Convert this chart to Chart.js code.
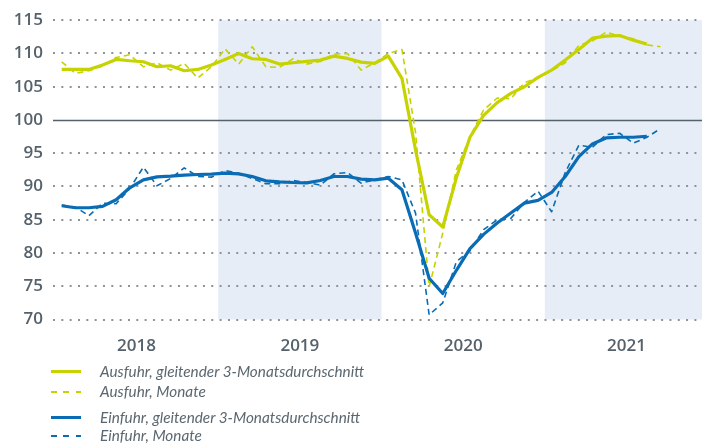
<!DOCTYPE html>
<html>
<head>
<meta charset="utf-8">
<script src="https://cdn.jsdelivr.net/npm/chart.js@4/dist/chart.umd.min.js"></script>
<style>
  html, body { margin: 0; padding: 0; background: #fff; }
  #wrap { position: relative; width: 702px; height: 445px; overflow: hidden; }
  #chart { position: absolute; left: 0; top: 0; }
  .legend { position: absolute; left: 0; top: 0; font-family: Lato, "Open Sans", sans-serif; font-style: italic; font-size: 15.3px; color: #5b6770; }
  .item { position: absolute; left: 51px; height: 20px; width: 400px; }
  .item .sw { position: absolute; left: 0; top: 9px; width: 30px; height: 3px; }
  .item .sw.dash { height: 2px; top: 10px; }
  .item span { position: absolute; left: 49px; top: 0; line-height: 20px; white-space: nowrap; }
</style>
</head>
<body>
<div id="wrap">
  <canvas id="chart" width="702" height="445"></canvas>
  <div class="legend" id="legend"></div>
</div>
<script>
// Monate Jan 2018 - Sep 2021 (Index 0 = Jan 2018)
const months = [
  '2018-01','2018-02','2018-03','2018-04','2018-05','2018-06','2018-07','2018-08','2018-09','2018-10','2018-11','2018-12',
  '2019-01','2019-02','2019-03','2019-04','2019-05','2019-06','2019-07','2019-08','2019-09','2019-10','2019-11','2019-12',
  '2020-01','2020-02','2020-03','2020-04','2020-05','2020-06','2020-07','2020-08','2020-09','2020-10','2020-11','2020-12',
  '2021-01','2021-02','2021-03','2021-04','2021-05','2021-06','2021-07','2021-08','2021-09'
];
const years = ['2018', '2019', '2020', '2021'];
const yTicks = [70, 75, 80, 85, 90, 95, 100, 105, 110, 115];

// Ausfuhr
const ausfuhrAvg = [
  107.6, 107.6, 107.6, 108.25, 109.1, 108.9, 108.75, 108.0, 108.15, 107.4, 107.6, 108.25,
  109.1, 110.0, 109.2, 109.1, 108.4, 108.6, 108.8, 109.0, 109.6, 109.25, 108.7, 108.5,
  109.6, 106.25, 95.5, 85.75, 83.9, 91.3, 97.4, 100.7, 102.6, 104.0, 105.0, 106.4,
  107.5, 109.0, 110.6, 112.3, 112.6, 112.7, 112.0, 111.4
];
const ausfuhrMonat = [
  108.75, 107.0, 107.4, 108.1, 109.4, 109.8, 108.0, 108.6, 107.5, 108.5, 106.3, 108.0,
  110.7, 108.4, 111.0, 108.0, 107.9, 109.2, 108.4, 108.8, 109.9, 110.0, 107.5, 108.6,
  110.0, 110.6, 98.1, 74.9, 83.0, 92.5, 97.5, 101.5, 103.3, 103.2, 105.6, 106.3,
  107.4, 108.6, 111.2, 111.9, 113.2, 112.6, 112.2, 111.3, 111.0
];

// Einfuhr
const einfuhrAvg = [
  87.1, 86.8, 86.8, 87.0, 88.0, 89.8, 91.0, 91.45, 91.55, 91.7, 91.8, 91.85,
  92.0, 91.9, 91.5, 90.85, 90.7, 90.6, 90.55, 90.9, 91.5, 91.5, 91.1, 91.0,
  91.25, 89.5, 83.0, 76.2, 73.9, 77.4, 80.65, 82.8, 84.5, 86.0, 87.5, 87.9,
  89.1, 91.5, 94.5, 96.4, 97.3, 97.4, 97.4, 97.55
];
const einfuhrMonat = [
  87.2, 86.9, 85.6, 87.5, 87.4, 89.7, 92.9, 90.1, 91.2, 92.8, 91.5, 91.4,
  92.4, 92.0, 91.2, 90.4, 90.4, 90.9, 90.6, 90.2, 91.9, 92.1, 90.5, 91.0,
  91.5, 91.0, 86.0, 70.7, 72.5, 78.7, 80.3, 83.5, 85.0, 85.2, 87.6, 89.3,
  86.2, 92.1, 96.2, 95.9, 97.8, 98.0, 96.5, 97.4, 98.7
];

const GELB = '#c6d300';
const BLAU = '#0a6cb4';
const TEXT = '#56626b';

function toPoints(values) {
  return values.map((v, i) => ({ x: i, y: v }));
}

// Jahresbaender 2019 und 2021 hinterlegen, 100er-Linie durchgezogen
const backgroundPlugin = {
  id: 'background',
  beforeDraw(chart) {
    const { ctx, chartArea, scales } = chart;
    ctx.save();
    ctx.fillStyle = '#e6edf7';
    [1, 3].forEach(function (yearIdx) {
      const x0 = Math.max(scales.x.getPixelForValue(yearIdx * 12 - 0.5), chartArea.left);
      const x1 = Math.min(scales.x.getPixelForValue(yearIdx * 12 + 11.5), chartArea.right);
      ctx.fillRect(x0, chartArea.top, x1 - x0, chartArea.bottom - chartArea.top);
    });
    ctx.restore();
  },
  beforeDatasetsDraw(chart) {
    const { ctx, chartArea, scales } = chart;
    const y = Math.round(scales.y.getPixelForValue(100)) + 0.5;
    ctx.save();
    ctx.strokeStyle = TEXT;
    ctx.lineWidth = 1.4;
    ctx.beginPath();
    ctx.moveTo(chartArea.left, y);
    ctx.lineTo(chartArea.right, y);
    ctx.stroke();
    ctx.restore();
  }
};

const ctx = document.getElementById('chart').getContext('2d');
new Chart(ctx, {
  type: 'line',
  data: {
    datasets: [
      { label: 'Einfuhr, gleitender 3-Monatsdurchschnitt', data: toPoints(einfuhrAvg), borderColor: BLAU, borderWidth: 3.2, order: 1 },
      { label: 'Einfuhr, Monate', data: toPoints(einfuhrMonat), borderColor: BLAU, borderWidth: 1.6, borderDash: [6, 4], order: 2 },
      { label: 'Ausfuhr, gleitender 3-Monatsdurchschnitt', data: toPoints(ausfuhrAvg), borderColor: GELB, borderWidth: 3.2, order: 3 },
      { label: 'Ausfuhr, Monate', data: toPoints(ausfuhrMonat), borderColor: GELB, borderWidth: 1.6, borderDash: [6, 4], order: 4 }
    ]
  },
  options: {
    responsive: false,
    animation: false,
    devicePixelRatio: 1,
    layout: { padding: { top: 16, left: 0, right: 0, bottom: 0 } },
    elements: {
      point: { radius: 0 },
      line: { tension: 0, fill: false, borderCapStyle: 'butt', borderJoinStyle: 'round' }
    },
    plugins: {
      legend: { display: false },
      tooltip: { enabled: false }
    },
    scales: {
      x: {
        type: 'linear',
        min: -0.64,
        max: 47.05,
        grid: { display: false },
        border: { display: false },
        afterFit: function (scale) { scale.height = 125.5; },
        afterBuildTicks: function (scale) {
          scale.ticks = years.map((y, i) => ({ value: i * 12 + 5.5 }));
        },
        ticks: {
          autoSkip: false,
          maxRotation: 0,
          padding: 8,
          color: TEXT,
          font: { family: '"Open Sans", sans-serif', size: 17, weight: '600' },
          callback: function (value) { return years[Math.round((value - 5.5) / 12)]; }
        }
      },
      y: {
        min: 70,
        max: 115,
        afterFit: function (scale) { scale.width = 53; },
        afterBuildTicks: function (scale) {
          scale.ticks = yTicks.map(v => ({ value: v }));
        },
        border: { display: false, dash: [2, 6.33] },
        grid: {
          drawTicks: false,
          lineWidth: 2,
          color: function (c) { return c.tick && c.tick.value === 100 ? 'rgba(0,0,0,0)' : '#8a949b'; }
        },
        ticks: {
          padding: 10,
          color: TEXT,
          font: { family: '"Open Sans", sans-serif', size: 17, weight: '600' }
        }
      }
    }
  },
  plugins: [backgroundPlugin]
});

// Legende
const legendItems = [
  { text: 'Ausfuhr, gleitender 3-Monatsdurchschnitt', color: GELB, dashed: false, top: 361 },
  { text: 'Ausfuhr, Monate', color: GELB, dashed: true, top: 380.5 },
  { text: 'Einfuhr, gleitender 3-Monatsdurchschnitt', color: BLAU, dashed: false, top: 406.5 },
  { text: 'Einfuhr, Monate', color: BLAU, dashed: true, top: 425 }
];
const legend = document.getElementById('legend');
legendItems.forEach(function (item) {
  const row = document.createElement('div');
  row.className = 'item';
  row.style.top = item.top + 'px';
  const sw = document.createElement('div');
  sw.className = item.dashed ? 'sw dash' : 'sw';
  sw.style.background = item.dashed
    ? 'repeating-linear-gradient(90deg, ' + item.color + ' 0 6px, transparent 6px 12.5px)'
    : item.color;
  const label = document.createElement('span');
  label.textContent = item.text;
  row.appendChild(sw);
  row.appendChild(label);
  legend.appendChild(row);
});
</script>
</body>
</html>
